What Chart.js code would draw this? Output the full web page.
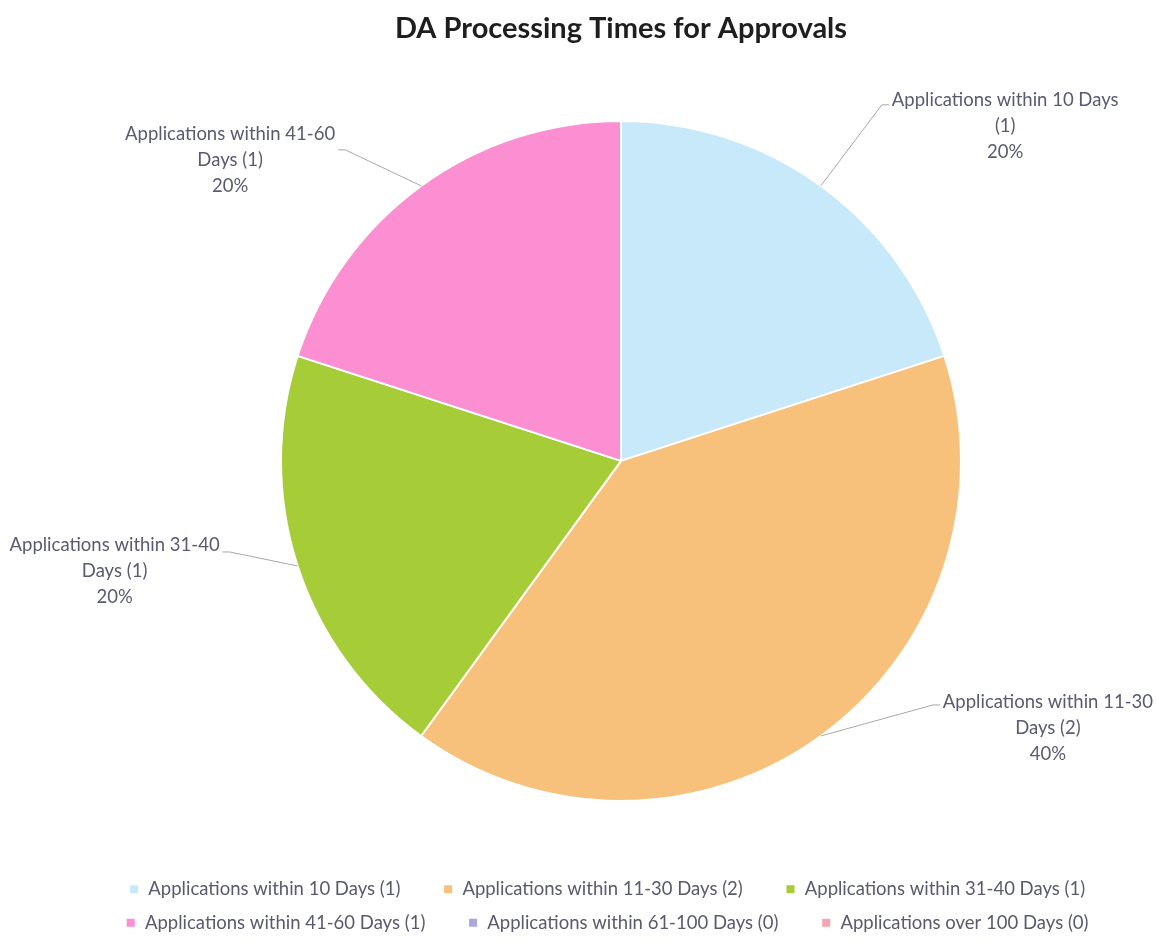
<!DOCTYPE html>
<html>
<head>
    <title>DA Processing Times</title>
    <script src="https://cdn.jsdelivr.net/npm/chart.js"></script>
    <style>
        body { margin: 0; background: #fff; }
        #wrap { width: 1156px; height: 942px; }
    </style>
</head>
<body>
<div id="wrap"><canvas id="daChart"></canvas></div>
<script>
const categories = [
    'Applications within 10 Days',
    'Applications within 11-30 Days',
    'Applications within 31-40 Days',
    'Applications within 41-60 Days',
    'Applications within 61-100 Days',
    'Applications over 100 Days'
];
const applications = [1, 2, 1, 1, 0, 0];
const sliceColors = ['#c7e9fa', '#f8c17b', '#a6cd37', '#fb8fd2', '#aaa6e2', '#f5a5ab'];

const total = applications.reduce((a, b) => a + b, 0);
const labels = categories.map((c, i) => c + ' (' + applications[i] + ')');

function wrapText(ctx, text, maxWidth) {
    const words = text.split(' ');
    const lines = [];
    let line = '';
    words.forEach(w => {
        const test = line ? line + ' ' + w : w;
        if (line && ctx.measureText(test).width > maxWidth) {
            lines.push(line);
            line = w;
        } else {
            line = test;
        }
    });
    if (line) lines.push(line);
    return lines;
}

// data labels outside the pie with a bent leader line
const calloutLabels = {
    id: 'calloutLabels',
    afterDatasetsDraw(chart, args, opts) {
        const ctx = chart.ctx;
        const meta = chart.getDatasetMeta(0);
        ctx.save();
        ctx.font = opts.font;
        meta.data.forEach((arc, i) => {
            const v = applications[i];
            if (!v) return;
            const p = arc.getProps(['x', 'y', 'startAngle', 'endAngle', 'outerRadius'], true);
            const mid = (p.startAngle + p.endAngle) / 2;
            const ex = p.x + Math.cos(mid) * p.outerRadius;
            const ey = p.y + Math.sin(mid) * p.outerRadius;
            const [dx, dy, ty] = opts.leaders[i];
            const bx = ex + dx, by = ey + dy;
            const right = dx > 0;
            const lines = wrapText(ctx, chart.data.labels[i], opts.maxWidth);
            lines.push(Math.round(v / total * 100) + '%');
            const w = Math.max(...lines.map(l => ctx.measureText(l).width));
            const tail = right ? bx + opts.gap - 3 : bx - opts.gap + 3;

            ctx.strokeStyle = opts.lineColor;
            ctx.lineWidth = 1;
            ctx.beginPath();
            ctx.moveTo(ex, ey);
            ctx.lineTo(bx, by);
            ctx.lineTo(tail, by);
            ctx.stroke();

            const edge = right ? bx + opts.gap : bx - opts.gap;
            const cx = right ? edge + w / 2 : edge - w / 2;
            ctx.fillStyle = opts.color;
            ctx.textAlign = 'center';
            ctx.textBaseline = 'middle';
            lines.forEach((l, k) => ctx.fillText(l, cx, by + ty + k * opts.lineHeight));
        });
        ctx.restore();
    }
};

new Chart(document.getElementById('daChart'), {
    type: 'pie',
    data: {
        labels: labels,
        datasets: [{
            data: applications,
            backgroundColor: sliceColors,
            borderColor: '#ffffff',
            borderWidth: 2,
            radius: 340
        }]
    },
    options: {
        responsive: true,
        maintainAspectRatio: false,
        animation: false,
        layout: { padding: { left: 86, right: 0, top: 0, bottom: 0 } },
        plugins: {
            title: {
                display: true,
                text: 'DA Processing Times for Approvals',
                color: '#1e1e1e',
                font: { family: 'Lato', size: 29, weight: 'bold' },
                padding: { top: 11, bottom: 11 }
            },
            legend: {
                position: 'bottom',
                labels: {
                    color: '#5a5a6e',
                    font: { family: 'Lato', size: 18.5 },
                    boxWidth: 10,
                    boxHeight: 10,
                    padding: 15,
                    // extra room after each entry so the rows spread out
                    generateLabels(chart) {
                        const items = Chart.overrides.pie.plugins.legend.labels.generateLabels(chart);
                        items.forEach(it => { it.text = it.text + '\u2003\u2003'; });
                        return items;
                    }
                }
            },
            tooltip: { enabled: false },
            calloutLabels: {
                font: '18.5px Lato',
                color: '#5a5a72',
                lineColor: '#a8a8a8',
                lineHeight: 26,
                maxWidth: 236,
                gap: 10,
                leaders: [[61, -81, -5], [112, -31, -3], [-68, -14, -7], [-76, -36, -16], [0, 0, 0], [0, 0, 0]]
            }
        }
    },
    plugins: [calloutLabels]
});
</script>
</body>
</html>
